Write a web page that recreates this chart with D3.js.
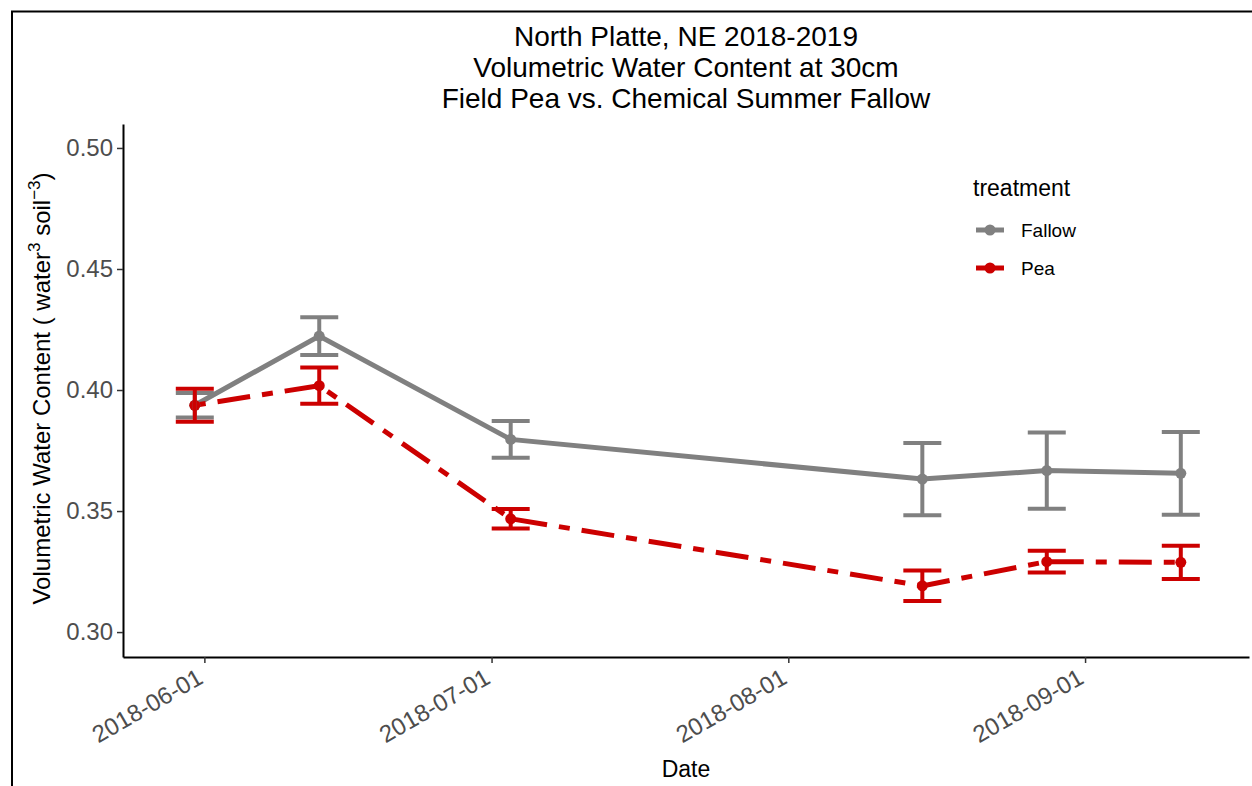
<!DOCTYPE html>
<html>
<head>
<meta charset="utf-8">
<script src="https://cdn.jsdelivr.net/npm/d3@7"></script>
<style>
  body { margin: 0; background: #fff; }
  text { font-family: "Liberation Sans", Arial, sans-serif; }
</style>
</head>
<body>
<div id="chart"></div>
<script>
// sampling dates and treatment means / standard errors
const dates = ["2018-05-31", "2018-06-13", "2018-07-03", "2018-08-15", "2018-08-28", "2018-09-11"];
const fallowMean = [0.3937, 0.4223, 0.3796, 0.3632, 0.3667, 0.3656];
const fallowSe   = [0.0051, 0.0078, 0.0076, 0.0149, 0.0158, 0.0171];
const peaMean    = [0.3937, 0.4018, 0.3468, 0.3191, 0.3291, 0.3288];
const peaSe      = [0.0068, 0.0075, 0.0040, 0.0063, 0.0045, 0.0069];
const treatments = ["Fallow", "Pea"];
const yTicks = [0.30, 0.35, 0.40, 0.45, 0.50];
const xTicks = ["2018-06-01", "2018-07-01", "2018-08-01", "2018-09-01"];
const titleLines = ["North Platte, NE 2018-2019", "Volumetric Water Content at 30cm", "Field Pea vs. Chemical Summer Fallow"];

const parse = d3.utcParse("%Y-%m-%d");

const W = 1252, H = 786;
const margin = {top: 124, right: 3, bottom: 129, left: 123};
const width = W - margin.left - margin.right;
const height = H - margin.top - margin.bottom;

const svg = d3.select("#chart")
    .append("svg")
    .attr("width", W)
    .attr("height", H);

// outer frame (only top and left edges fall inside the picture)
svg.append("rect")
    .attr("x", 12).attr("y", 11.5)
    .attr("width", W + 20).attr("height", H + 20)
    .attr("fill", "none")
    .attr("stroke", "#000")
    .attr("stroke-width", 2);

const g = svg.append("g")
    .attr("transform", `translate(${margin.left},${margin.top})`);

const x = d3.scaleUtc()
    .domain([new Date(Date.UTC(2018, 4, 23, 12)), new Date(Date.UTC(2018, 8, 18, 3))])
    .range([0, width]);

const y = d3.scaleLinear()
    .domain([0.2897, 0.5099])
    .range([height, 0]);

const color = d3.scaleOrdinal().domain(treatments).range(["#808080", "#CC0000"]);
const dash = d3.scaleOrdinal().domain(treatments).range(["none", "11,12,33,12"]);

const series = [
    {name: "Fallow", values: dates.map((d, i) => ({date: parse(d), mean: fallowMean[i], se: fallowSe[i]}))},
    {name: "Pea", values: dates.map((d, i) => ({date: parse(d), mean: peaMean[i], se: peaSe[i]}))}
];

// axes
const xAxis = g.append("g")
    .attr("transform", `translate(0,${height})`)
    .call(d3.axisBottom(x).tickValues(xTicks.map(parse)).tickFormat(d3.utcFormat("%Y-%m-%d"))
        .tickSizeInner(6).tickSizeOuter(0).tickPadding(4));
xAxis.select(".domain").attr("stroke", "#000").attr("stroke-width", 2);
xAxis.selectAll(".tick line").attr("stroke", "#333").attr("stroke-width", 1.5);
xAxis.selectAll(".tick text")
    .attr("fill", "#4D4D4D")
    .style("font-size", "24px")
    .attr("text-anchor", "end")
    .attr("dy", null)
    .attr("transform", "translate(-9,10) rotate(-30)")
    .attr("y", 0).attr("x", 0)
    .attr("dominant-baseline", "hanging");

const yAxis = g.append("g")
    .call(d3.axisLeft(y).tickValues(yTicks).tickFormat(d3.format(".2f"))
        .tickSizeInner(6).tickSizeOuter(0).tickPadding(4));
yAxis.select(".domain").attr("stroke", "#000").attr("stroke-width", 2);
yAxis.selectAll(".tick line").attr("stroke", "#333").attr("stroke-width", 1.5);
yAxis.selectAll(".tick text").attr("fill", "#4D4D4D").style("font-size", "24px");

// axis titles
svg.append("text")
    .attr("x", margin.left + width / 2)
    .attr("y", 777)
    .attr("text-anchor", "middle")
    .style("font-size", "23px")
    .text("Date");

const yTitle = svg.append("text")
    .attr("transform", `translate(50,${margin.top + height / 2 - 2}) rotate(-90)`)
    .attr("text-anchor", "middle")
    .style("font-size", "24px");
yTitle.append("tspan").text("Volumetric Water Content ( water");
yTitle.append("tspan").attr("dy", -10).style("font-size", "17px").text("3");
yTitle.append("tspan").attr("dy", 10).text(" soil");
yTitle.append("tspan").attr("dy", -10).style("font-size", "17px").text("\u22123");
yTitle.append("tspan").attr("dy", 10).text(")");

// title
svg.selectAll("text.title")
    .data(titleLines)
    .enter()
    .append("text")
    .attr("class", "title")
    .attr("x", margin.left + width / 2)
    .attr("y", (d, i) => 46 + i * 31)
    .attr("text-anchor", "middle")
    .style("font-size", "28px")
    .text(d => d);

// lines
const line = d3.line()
    .x(d => x(d.date))
    .y(d => y(d.mean));

g.selectAll("path.series")
    .data(series)
    .enter()
    .append("path")
    .attr("class", "series")
    .attr("fill", "none")
    .attr("stroke", d => color(d.name))
    .attr("stroke-width", 5)
    .attr("stroke-dasharray", d => dash(d.name))
    .attr("d", d => line(d.values));

// points
series.forEach(s => {
    g.selectAll(null)
        .data(s.values)
        .enter()
        .append("circle")
        .attr("cx", d => x(d.date))
        .attr("cy", d => y(d.mean))
        .attr("r", 5.5)
        .attr("fill", color(s.name));
});

// error bars
const capHalf = 19;
series.forEach(s => {
    const eb = g.selectAll(null)
        .data(s.values)
        .enter()
        .append("g")
        .attr("stroke", color(s.name))
        .attr("stroke-width", 4);
    eb.append("line")
        .attr("x1", d => x(d.date)).attr("x2", d => x(d.date))
        .attr("y1", d => y(d.mean + d.se)).attr("y2", d => y(d.mean - d.se));
    eb.append("line")
        .attr("x1", d => x(d.date) - capHalf).attr("x2", d => x(d.date) + capHalf)
        .attr("y1", d => y(d.mean + d.se)).attr("y2", d => y(d.mean + d.se));
    eb.append("line")
        .attr("x1", d => x(d.date) - capHalf).attr("x2", d => x(d.date) + capHalf)
        .attr("y1", d => y(d.mean - d.se)).attr("y2", d => y(d.mean - d.se));
});

// legend
const legend = svg.append("g").attr("transform", "translate(973,0)");
legend.append("text")
    .attr("x", 0)
    .attr("y", 196)
    .style("font-size", "23px")
    .text("treatment");

const item = legend.selectAll("g.item")
    .data(treatments)
    .enter()
    .append("g")
    .attr("class", "item")
    .attr("transform", (d, i) => `translate(0,${230 + i * 38})`);

item.append("line")
    .attr("x1", 3).attr("x2", 31)
    .attr("stroke", d => color(d))
    .attr("stroke-width", 5);
item.append("circle")
    .attr("cx", 17)
    .attr("r", 5.5)
    .attr("fill", d => color(d));
item.append("text")
    .attr("x", 48)
    .attr("y", 7)
    .style("font-size", "19px")
    .text(d => d);
</script>
</body>
</html>
